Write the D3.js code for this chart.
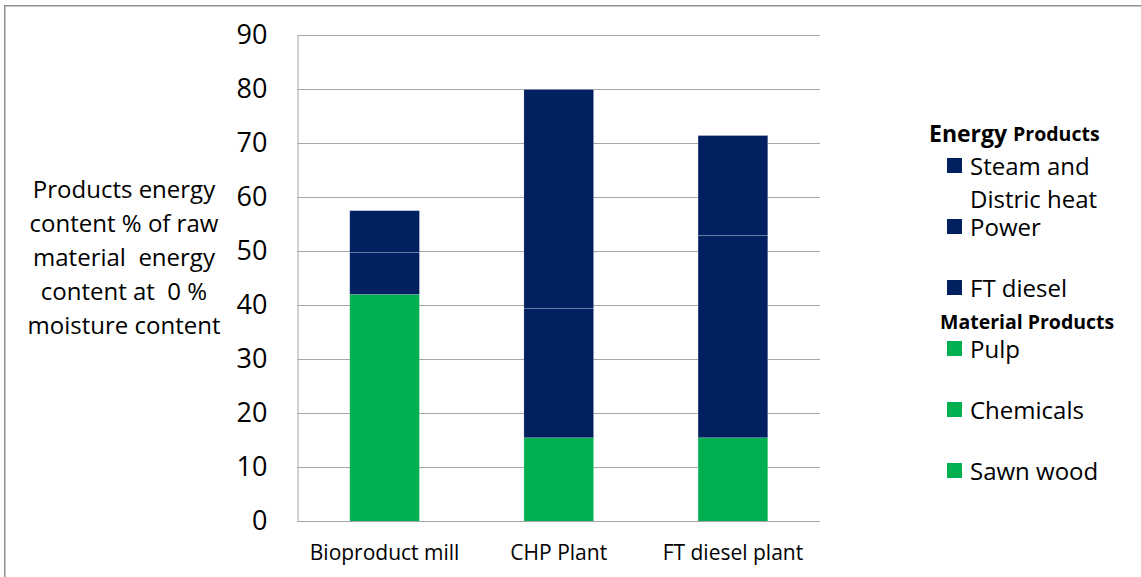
<!DOCTYPE html>
<html>
<head>
<meta charset="utf-8">
<script src="https://cdn.jsdelivr.net/npm/d3@7"></script>
<style>
  html, body { margin: 0; padding: 0; background: #ffffff; }
  svg { display: block; font-family: "Open Sans", "Noto Sans", sans-serif; }
  text { white-space: pre; }
</style>
</head>
<body>
<svg id="chart" width="1141" height="577"></svg>
<script>
// Plants compared
const categories = ["Bioproduct mill", "CHP Plant", "FT diesel plant"];

// Product energy content, % of raw material energy content (0 % moisture)
const sawnWood  = [0, 15.5, 15.5];
const chemicals = [0, 0, 0];
const pulp      = [42, 0, 0];
const ftDiesel  = [0, 0, 37.4];
const power     = [7.8, 23.9, 0];
const steamHeat = [7.7, 40.5, 18.5];

const yTicks = [0, 10, 20, 30, 40, 50, 60, 70, 80, 90];

const seriesNames = ["Sawn wood", "Chemicals", "Pulp", "FT diesel", "Power", "Steam and Distric heat"];
const seriesValues = [sawnWood, chemicals, pulp, ftDiesel, power, steamHeat];

const NAVY = "#002060";
const GREEN = "#00b050";
const seriesColors = [GREEN, GREEN, GREEN, NAVY, NAVY, NAVY];

const yTitleLines = ["Products energy", "content % of raw", "material  energy", "content at  0 %", "moisture content"];

const svg = d3.select("#chart");

// Outer frame (top and left edges)
svg.append("path")
  .attr("d", "M4.75,577 V5.75 H1141")
  .attr("fill", "none")
  .attr("stroke", "#8f8f8f")
  .attr("stroke-width", 1.5);

const plot = { left: 297.5, right: 820, top: 35, bottom: 521.5 };

const x = d3.scaleBand()
  .domain(categories)
  .range([plot.left, plot.right])
  .paddingInner(0.6)
  .paddingOuter(0.3);

const y = d3.scaleLinear()
  .domain([0, 90])
  .range([plot.bottom, plot.top]);

// Horizontal gridlines
svg.append("g")
  .selectAll("line")
  .data(yTicks.filter(d => d > 0))
  .join("line")
  .attr("x1", plot.left)
  .attr("x2", plot.right)
  .attr("y1", d => Math.round(y(d)) + 0.5)
  .attr("y2", d => Math.round(y(d)) + 0.5)
  .attr("stroke", "#a6a6a6")
  .attr("stroke-width", 1);

// Stacked bars
const rows = categories.map((c, i) => {
  const r = { category: c };
  seriesNames.forEach((s, k) => { r[s] = seriesValues[k][i]; });
  return r;
});
const stacked = d3.stack().keys(seriesNames)(rows);

svg.append("g")
  .selectAll("g")
  .data(stacked)
  .join("g")
  .attr("fill", (d, k) => seriesColors[k])
  .selectAll("rect")
  .data(d => d.filter(p => p[1] - p[0] > 0))
  .join("rect")
  .attr("x", p => x(p.data.category))
  .attr("width", x.bandwidth())
  .attr("y", p => y(p[1]))
  .attr("height", p => y(p[0]) - y(p[1]))
  .attr("stroke", "rgba(255,255,255,0.22)")
  .attr("stroke-width", 0.8);

// Axis lines and tick labels
const yAxis = svg.append("g")
  .attr("transform", `translate(${plot.left},0)`)
  .call(d3.axisLeft(y).tickValues(yTicks).tickSize(0).tickPadding(30));
yAxis.select(".domain").attr("stroke", "#a6a6a6").attr("stroke-width", 1);
yAxis.selectAll("text")
  .attr("font-size", 27)
  .attr("font-family", "'Open Sans', sans-serif")
  .attr("fill", "#000")
  .attr("dy", "0.3em");

const xAxis = svg.append("g")
  .attr("transform", `translate(0,${plot.bottom})`)
  .call(d3.axisBottom(x).tickSize(0).tickPadding(24));
xAxis.select(".domain").attr("stroke", "#a6a6a6").attr("stroke-width", 1)
  .attr("d", `M${plot.left},0H${plot.right}`);
xAxis.selectAll("text")
  .attr("font-size", 21)
  .attr("font-family", "'Open Sans', sans-serif")
  .attr("fill", "#000");

// Y-axis title
svg.append("g")
  .selectAll("text")
  .data(yTitleLines)
  .join("text")
  .attr("x", 124)
  .attr("y", (d, i) => 188 + i * 34)
  .attr("text-anchor", "middle")
  .attr("dominant-baseline", "central")
  .attr("font-size", 24)
  .attr("fill", "#000")
  .text(d => d);

// Legend
const legendItems = [
  { lines: ["Steam and", "Distric heat"], color: NAVY },
  { lines: ["Power"], color: NAVY },
  { lines: ["FT diesel"], color: NAVY },
  { lines: ["Pulp"], color: GREEN },
  { lines: ["Chemicals"], color: GREEN },
  { lines: ["Sawn wood"], color: GREEN }
];
const legend = svg.append("g");
const entry = legend.selectAll("g")
  .data(legendItems)
  .join("g")
  .attr("transform", (d, i) => `translate(947,${165.5 + i * 61})`);
entry.append("rect")
  .attr("x", 0).attr("y", -7.5)
  .attr("width", 15).attr("height", 15)
  .attr("fill", d => d.color);
entry.selectAll("text")
  .data(d => d.lines)
  .join("text")
  .attr("x", 23)
  .attr("y", (d, j) => j * 33)
  .attr("dominant-baseline", "central")
  .attr("font-size", 24)
  .attr("fill", "#000")
  .text(d => d);

// Legend group headings
const h1 = legend.append("text")
  .attr("x", 929).attr("y", 133)
  .attr("dominant-baseline", "central")
  .attr("font-weight", "bold")
  .attr("fill", "#000");
h1.append("tspan").attr("font-size", 23).text("Energy ");
h1.append("tspan").attr("font-size", 19.5).text("Products");

legend.append("text")
  .attr("x", 940).attr("y", 321)
  .attr("dominant-baseline", "central")
  .attr("font-weight", "bold")
  .attr("font-size", 19.5)
  .attr("fill", "#000")
  .text("Material Products");
</script>
</body>
</html>
